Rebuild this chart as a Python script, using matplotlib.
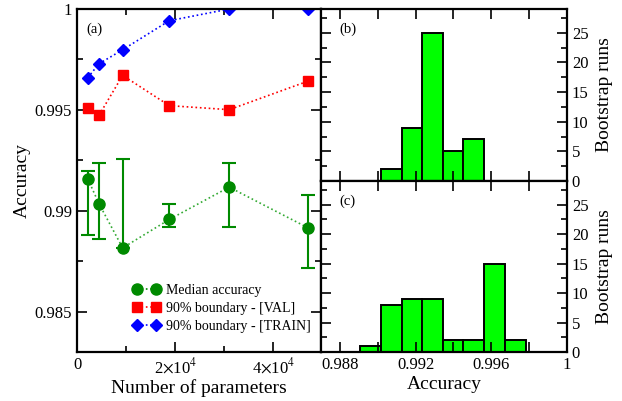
import numpy as np
import matplotlib
matplotlib.use("Agg")
import matplotlib.pyplot as plt
from matplotlib.ticker import MultipleLocator, FixedLocator, FixedFormatter

plt.rcParams["font.family"] = ["Liberation Serif", "DejaVu Serif"]
plt.rcParams["mathtext.fontset"] = "stix"

# panel (a) data
n_params = [2200, 4500, 9300, 18800, 31000, 47000]
median_acc = [0.99158, 0.99034, 0.98816, 0.98957, 0.99117, 0.98916]
err_hi = [0.99199, 0.99238, 0.99256, 0.99036, 0.99238, 0.99080]
err_lo = [0.98882, 0.98859, 0.98816, 0.98918, 0.98918, 0.98716]
bound_val = [0.99509, 0.99474, 0.99671, 0.99521, 0.99501, 0.99642]
bound_train = [0.99660, 0.99729, 0.99798, 0.99942, 1.0, 1.0]

# panel (b) and (c) histograms
bin_edges_b = [0.99018, 0.99126, 0.99236, 0.99345, 0.99453, 0.99563]
counts_b = [2, 9, 25, 5, 7]
bin_edges_c = [0.98906, 0.99018, 0.99126, 0.99236, 0.99345, 0.99453,
               0.99563, 0.99673, 0.99783]
counts_c = [1, 8, 9, 9, 2, 2, 15, 2]

xticks_a = [0, 20000, 40000]
xticklabels_a = ["0", r"2$\times$10$^4$", r"4$\times$10$^4$"]
yticks_a = [0.985, 0.99, 0.995, 1.0]
yticklabels_a = ["0.985", "0.99", "0.995", "1"]
xticks_h = [0.988, 0.992, 0.996, 1.0]
xticklabels_h = ["0.988", "0.992", "0.996", "1"]

W, H = 622, 401
fig = plt.figure(figsize=(W / 100, H / 100), dpi=100)

def rect(x0, y0, x1, y1):
    return [x0 / W, 1 - y1 / H, (x1 - x0) / W, (y1 - y0) / H]

def style(ax):
    for s in ax.spines.values():
        s.set_linewidth(1.6)
    ax.tick_params(which="both", direction="in", top=True, bottom=True,
                   left=True, right=True, width=1.2)
    ax.tick_params(which="major", length=7)
    ax.tick_params(which="minor", length=4)

green = "#008a00"
# ---- panel (a)
ax = fig.add_axes(rect(77, 9, 321, 352))
yerr = [np.array(median_acc) - np.array(err_lo), np.array(err_hi) - np.array(median_acc)]
ax.errorbar(n_params, median_acc, yerr=yerr, fmt="o", color=green, ms=8,
            capsize=5, elinewidth=1.5, capthick=1.5, zorder=3)
ax.plot(n_params, median_acc, ":", color="#33aa33", lw=1.2, zorder=2)
l1, = ax.plot([], [], "o:", color=green, ms=8, lw=1.2)
l2, = ax.plot(n_params, bound_val, "s:", color="#ff0000", ms=7, lw=1.2,
              mfc="#ff0000", mec="#ff0000")
l3, = ax.plot(n_params, bound_train, "D:", color="#0000ff", ms=6, lw=1.2)
ax.set_xlim(0, 49700)
ax.set_ylim(0.983, 1.0)
ax.xaxis.set_major_locator(FixedLocator(xticks_a))
ax.xaxis.set_major_formatter(FixedFormatter(xticklabels_a))
ax.xaxis.set_minor_locator(MultipleLocator(10000))
ax.yaxis.set_major_locator(FixedLocator(yticks_a))
ax.yaxis.set_major_formatter(FixedFormatter(yticklabels_a))
ax.yaxis.set_minor_locator(MultipleLocator(0.0025))
style(ax)
ax.tick_params(labelsize=12)
ax.set_xlabel("Number of parameters", fontsize=14, labelpad=2)
ax.set_ylabel("Accuracy", fontsize=14, labelpad=3)
ax.text(0.04, 0.96, "(a)", transform=ax.transAxes, fontsize=10.5, va="top")
ax.legend([l1, l2, l3], ["Median accuracy", "90% boundary - [VAL]",
                         "90% boundary - [TRAIN]"],
          loc="lower left", bbox_to_anchor=(0.2, 0.035), frameon=False,
          numpoints=2, fontsize=10, handlelength=2.0, handletextpad=0.4,
          labelspacing=0.35, borderpad=0)

# ---- panels (b), (c)
for box, edges, counts, lab in [((321, 9, 567, 181), bin_edges_b, counts_b, "(b)"),
                                ((321, 181, 567, 352), bin_edges_c, counts_c, "(c)")]:
    hx = fig.add_axes(rect(*box))
    hx.bar(edges[:-1], counts, width=np.diff(edges), align="edge",
           color="#00ff00", edgecolor="black", linewidth=1.4)
    hx.set_xlim(0.987, 1.0)
    hx.set_ylim(0, 29)
    hx.xaxis.set_major_locator(FixedLocator(xticks_h))
    hx.xaxis.set_minor_locator(MultipleLocator(0.002))
    hx.yaxis.set_major_locator(MultipleLocator(5))
    hx.yaxis.set_minor_locator(MultipleLocator(2.5))
    style(hx)
    hx.tick_params(axis="x", which="minor", length=7)
    hx.yaxis.tick_right()
    hx.tick_params(which="both", left=True, right=True, labelleft=False,
                   labelright=True, labelsize=12)
    hx.yaxis.set_label_position("right")
    hx.set_ylabel("Bootstrap runs", fontsize=14, labelpad=5)
    hx.text(0.075, 0.92, lab, transform=hx.transAxes, fontsize=10.5, va="top")
    if lab == "(c)":
        hx.xaxis.set_major_formatter(FixedFormatter(xticklabels_h))
        hx.set_xlabel("Accuracy", fontsize=14, labelpad=2)
    else:
        hx.tick_params(labelbottom=False)

fig.savefig("out.png", dpi=100)
